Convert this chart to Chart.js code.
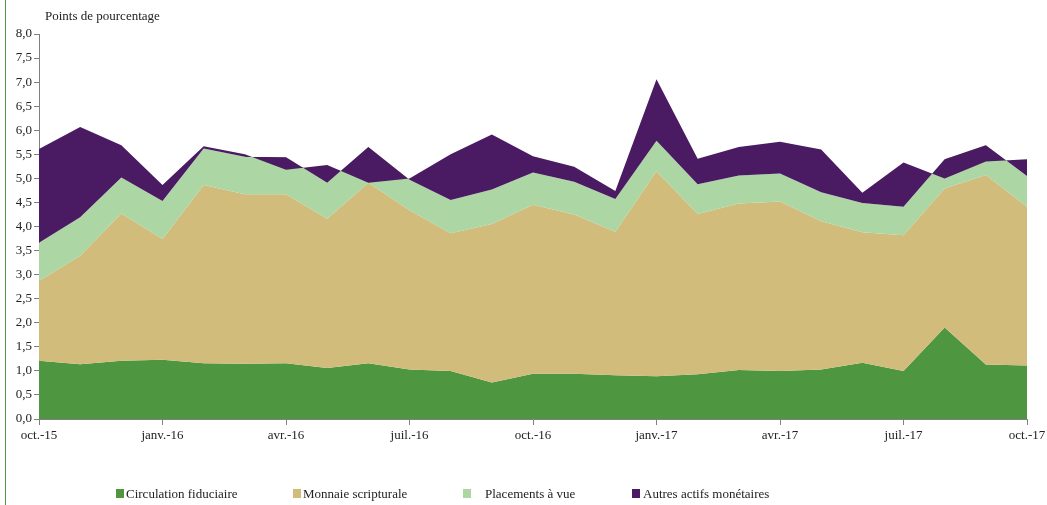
<!DOCTYPE html>
<html><head><meta charset="utf-8">
<script src="https://cdn.jsdelivr.net/npm/chart.js@4.4.0/dist/chart.umd.min.js"></script>
<style>
html,body{margin:0;padding:0;background:#fff;overflow:hidden}
#wrap{position:relative;width:1047px;height:505px}
#edge{position:absolute;left:5px;top:0;width:1px;height:505px;background:#4f9a3f}
canvas{position:absolute;left:0;top:0}
</style></head><body>
<div id="wrap"><canvas id="c" width="1047" height="505"></canvas><div id="edge"></div></div>
<script>
// Categories (monthly)
const months = ['oct.-15','nov.-15','déc.-15','janv.-16','févr.-16','mars-16','avr.-16','mai-16','juin-16','juil.-16','août-16','sept.-16','oct.-16','nov.-16','déc.-16','janv.-17','févr.-17','mars-17','avr.-17','mai-17','juin-17','juil.-17','août-17','sept.-17','oct.-17'];
// Contributions (points de pourcentage)
const circulation = [1.21,1.14,1.21,1.23,1.16,1.15,1.16,1.06,1.16,1.03,1.00,0.76,0.94,0.94,0.91,0.89,0.93,1.02,1.00,1.03,1.17,1.00,1.90,1.13,1.11];
const monnaie     = [1.66,2.25,3.06,2.51,3.70,3.52,3.51,3.10,3.75,3.31,2.86,3.29,3.51,3.31,2.98,4.26,3.33,3.46,3.52,3.08,2.71,2.82,2.89,3.94,3.30];
const placements  = [0.79,0.80,0.75,0.79,0.76,0.78,0.77,0.75,0.74,0.63,0.69,0.72,0.67,0.68,0.68,0.63,0.62,0.58,0.58,0.60,0.61,0.59,0.61,0.62,0.64];
const autres      = [1.95,1.88,0.67,0.33,0.05,0.05,-0.26,0.37,-0.74,0.03,0.95,1.14,0.34,0.31,0.17,1.28,0.53,0.59,0.66,0.89,0.21,0.92,-0.40,-0.34,0.35];
const seriesNames = ['Circulation fiduciaire','Monnaie scripturale','Placements à vue','Autres actifs monétaires'];
const yTickValues = [0,0.5,1,1.5,2,2.5,3,3.5,4,4.5,5,5.5,6,6.5,7,7.5,8];
const titleText = 'Points de pourcentage';

const colors = ['#4f9641','#d1bc7b','#acd6a4','#4a1a63'];
const FONT = '"Liberation Serif", "Times New Roman", serif';

// cumulative sums (Excel-style stacking, signs kept)
const comps = [circulation, monnaie, placements, autres];
const cum = [];
comps.forEach((arr, k) => {
  cum.push(arr.map((v, i) => (k === 0 ? 0 : cum[k-1][i]) + v));
});

const datasets = comps.map((arr, k) => ({
  label: seriesNames[k],
  data: cum[k],
  backgroundColor: colors[k],
  borderColor: colors[k],
  borderWidth: 0,
  pointRadius: 0,
  tension: 0,
  fill: k === 0 ? 'origin' : '-1',
  order: 3 - k
}));

const decor = {
  id: 'decor',
  afterDraw(chart) {
    const ctx = chart.ctx;
    ctx.save();
    ctx.font = '13px ' + FONT;
    ctx.fillStyle = '#222';
    ctx.textBaseline = 'alphabetic';
    ctx.textAlign = 'left';
    ctx.fillText(titleText, 45, 20);
    const boxX = [116, 293, 463, 632];
    const txtOff = [10, 10, 22, 11];
    chart.data.datasets.forEach((ds, i) => {
      ctx.fillStyle = ds.backgroundColor;
      ctx.fillRect(boxX[i], 489, 8, 9);
      ctx.fillStyle = '#222';
      ctx.fillText(ds.label, boxX[i] + txtOff[i], 498);
    });
    ctx.restore();
  }
};

new Chart(document.getElementById('c'), {
  type: 'line',
  data: { labels: months, datasets },
  options: {
    responsive: false,
    animation: false,
    devicePixelRatio: 1,
    events: [],
    layout: { padding: { left: 0, right: 20, top: 34, bottom: 56 } },
    plugins: { legend: { display: false }, title: { display: false }, tooltip: { enabled: false } },
    scales: {
      x: {
        type: 'category',
        offset: false,
        afterFit(s) { s.height = 30; s.paddingRight = 0; s.paddingLeft = 0; },
        grid: {
          drawOnChartArea: false, drawTicks: true, tickLength: 6,
          color: c => (c.index % 3 === 0 ? '#808080' : 'rgba(0,0,0,0)')
        },
        border: { display: true, color: '#808080', width: 1 },
        ticks: {
          autoSkip: false, maxRotation: 0, minRotation: 0, padding: 3,
          color: '#222', font: { family: FONT, size: 13 },
          callback: (v, i) => (i % 3 === 0 ? months[i] : '')
        }
      },
      y: {
        min: 0, max: 8,
        afterFit(s) { s.width = 39; },
        afterBuildTicks(s) { s.ticks = yTickValues.map(v => ({ value: v })); },
        grid: { drawOnChartArea: false, drawTicks: true, tickLength: 5, color: '#808080' },
        border: { display: true, color: '#808080', width: 1 },
        ticks: {
          padding: 2, color: '#222', font: { family: FONT, size: 13 },
          callback: v => Number(v).toFixed(1).replace('.', ',')
        }
      }
    }
  },
  plugins: [decor]
});
</script>
</body></html>
